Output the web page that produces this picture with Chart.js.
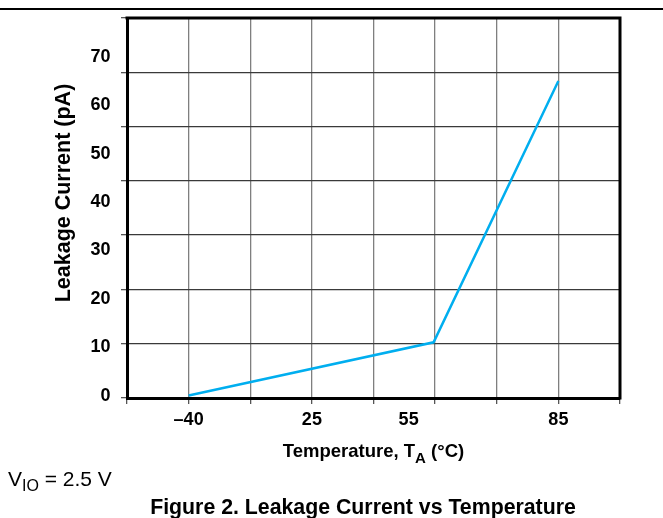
<!DOCTYPE html>
<html>
<head>
<meta charset="utf-8">
<script src="https://cdn.jsdelivr.net/npm/chart.js@4.4.0/dist/chart.umd.min.js"></script>
<style>
  html, body { margin: 0; padding: 0; background: #ffffff; }
  #c { display: block; }
</style>
</head>
<body>
<canvas id="c" width="663" height="518"></canvas>
<script>
// ---- Data ----
const tempTickLabels = ['–40', '25', '55', '85'];          // x tick texts
const tempTickValues = [-40, 25, 55, 85];                  // °C of each x tick
const tempTickSlots  = [1, 3, 4.57, 7];                    // grid division where each x tick sits
const curveTemps     = [-40, 60, 85];                      // °C
const curveLeakage   = [0, 11, 65];                        // pA
const leakageTicks   = [0, 10, 20, 30, 40, 50, 60, 70];    // y tick values

const FONT = '"Liberation Sans", Arial, Helvetica, sans-serif';

// map a temperature onto the (uneven) printed temperature axis
function tempToSlot(t) {
  for (let i = 0; i < tempTickValues.length - 1; i++) {
    const a = tempTickValues[i], b = tempTickValues[i + 1];
    if (t <= b || i === tempTickValues.length - 2) {
      return tempTickSlots[i] + (t - a) / (b - a) * (tempTickSlots[i + 1] - tempTickSlots[i]);
    }
  }
}

const points = curveTemps.map((t, i) => ({ x: tempToSlot(t), y: curveLeakage[i] }));

function noPad(s) { s.paddingTop = 0; s.paddingBottom = 0; s.paddingLeft = 0; s.paddingRight = 0; }

const decor = {
  id: 'decor',
  afterDraw(chart) {
    const ctx = chart.ctx;
    const a = chart.chartArea;
    ctx.save();
    // page rule at top
    ctx.strokeStyle = '#000';
    ctx.lineWidth = 2;
    ctx.beginPath(); ctx.moveTo(0, 9); ctx.lineTo(663, 9); ctx.stroke();
    // frame top and right
    ctx.lineWidth = 3;
    ctx.beginPath();
    ctx.moveTo(a.left - 1.5, a.top);
    ctx.lineTo(a.right, a.top);
    ctx.lineTo(a.right, a.bottom + 1.5);
    ctx.stroke();

    ctx.fillStyle = '#000';
    // y title
    ctx.save();
    ctx.translate(64, 193);
    ctx.rotate(-Math.PI / 2);
    ctx.font = 'bold 21.5px ' + FONT;
    ctx.textAlign = 'center';
    ctx.textBaseline = 'middle';
    ctx.fillText('Leakage Current (pA)', 0, 0);
    ctx.restore();

    // x title with subscript
    const mainF = 'bold 18.5px ' + FONT, subF = 'bold 15px ' + FONT;
    const p1 = 'Temperature, T', p2 = 'A', p3 = ' (°C)';
    ctx.font = mainF; const w1 = ctx.measureText(p1).width, w3 = ctx.measureText(p3).width;
    ctx.font = subF; const w2 = ctx.measureText(p2).width;
    let x = 373.5 - (w1 + w2 + w3) / 2;
    ctx.textAlign = 'left'; ctx.textBaseline = 'alphabetic';
    ctx.font = mainF; ctx.fillText(p1, x, 456.5); x += w1;
    ctx.font = subF; ctx.fillText(p2, x, 462.5); x += w2;
    ctx.font = mainF; ctx.fillText(p3, x, 456.5);

    // V_IO note
    const nF = '21px ' + FONT, nS = '16px ' + FONT;
    let nx = 8;
    ctx.font = nF; ctx.fillText('V', nx, 486); nx += ctx.measureText('V').width;
    ctx.font = nS; ctx.fillText('IO', nx, 491); nx += ctx.measureText('IO').width;
    ctx.font = nF; ctx.fillText(' = 2.5 V', nx, 486);

    // caption
    ctx.font = 'bold 21.3px ' + FONT;
    ctx.textAlign = 'center';
    ctx.fillText('Figure 2. Leakage Current vs Temperature', 363, 514);
    ctx.restore();
  }
};

new Chart(document.getElementById('c'), {
  type: 'line',
  data: {
    datasets: [{
      data: points,
      borderColor: '#00AEEF',
      borderWidth: 2.5,
      pointRadius: 0,
      tension: 0,
      fill: false,
      xAxisID: 'xg',
      yAxisID: 'y'
    }]
  },
  options: {
    responsive: false,
    animation: false,
    devicePixelRatio: 1,
    layout: { padding: { top: 18, right: 43, left: 0, bottom: 0 } },
    plugins: { legend: { display: false }, tooltip: { enabled: false }, title: { display: false } },
    scales: {
      xg: {
        type: 'linear', position: 'bottom', min: 0, max: 8,
        ticks: { stepSize: 1, display: false },
        grid: { color: '#7f7f7f', lineWidth: 1.3, drawTicks: true, tickLength: 6, tickColor: '#555' },
        border: { display: true, color: '#000', width: 3 },
        afterFit(s) { s.height = 6; noPad(s); }
      },
      xl: {
        type: 'linear', position: 'bottom', min: 0, max: 8,
        afterBuildTicks(s) { s.ticks = tempTickSlots.map(v => ({ value: v })); },
        ticks: {
          autoSkip: false, maxRotation: 0, padding: 5, color: '#000',
          font: { family: FONT, size: 18, weight: 'bold' },
          callback: (v, i) => tempTickLabels[i]
        },
        grid: { display: false, drawTicks: false },
        border: { display: false },
        afterFit(s) { s.height = 114; noPad(s); }
      },
      yg: {
        type: 'linear', position: 'left', min: 0, max: 70,
        ticks: { stepSize: 10, display: false },
        grid: { color: '#3a3a3a', lineWidth: 1.3, drawTicks: true, tickLength: 6, tickColor: '#555' },
        border: { display: true, color: '#000', width: 3 },
        afterFit(s) { s.width = 6; noPad(s); }
      },
      y: {
        type: 'linear', position: 'left', min: -0.5, max: 78,
        afterBuildTicks(s) { s.ticks = leakageTicks.map(v => ({ value: v })); },
        ticks: {
          autoSkip: false, padding: 10.5, color: '#000',
          font: { family: FONT, size: 18, weight: 'bold' }
        },
        grid: { display: false, drawTicks: false },
        border: { display: false },
        afterFit(s) { s.width = 121; noPad(s); }
      }
    }
  },
  plugins: [decor]
});
</script>
</body>
</html>
